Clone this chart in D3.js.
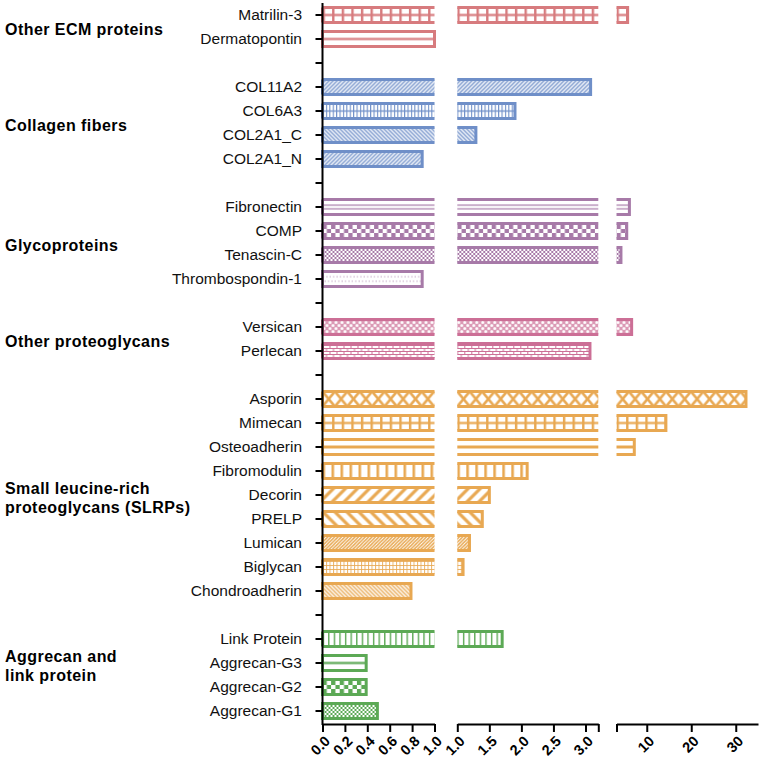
<!DOCTYPE html>
<html><head><meta charset="utf-8">
<script src="https://cdn.jsdelivr.net/npm/d3@7/dist/d3.min.js"></script>
<style>body{margin:0;background:#fff;} svg{display:block;font-family:Arial,"Liberation Sans",sans-serif;}</style>
</head><body><svg id="chart" width="765" height="766"></svg>
<script>
// ---------- data ----------
const categories = ["Matrilin-3","Dermatopontin","_gap1","COL11A2","COL6A3","COL2A1_C","COL2A1_N","_gap2",
  "Fibronectin","COMP","Tenascin-C","Thrombospondin-1","_gap3","Versican","Perlecan","_gap4",
  "Asporin","Mimecan","Osteoadherin","Fibromodulin","Decorin","PRELP","Lumican","Biglycan","Chondroadherin","_gap5",
  "Link Protein","Aggrecan-G3","Aggrecan-G2","Aggrecan-G1"];
const values = [5.7,1.0,null,3.08,1.9,1.29,0.89,null,
  6.1,5.5,4.2,0.89,null,6.6,3.07,null,
  32.3,14.3,7.2,2.09,1.5,1.39,1.19,1.09,0.79,null,
  1.7,0.39,0.39,0.49];
const patternTypes = ["grid","hline","","diagFineR","gridSmall","diagFineL","diagFineR","",
  "hlines2","checkBig","checkSmall","dots","","lace","brick","",
  "xdiamond","grid","hlineThick","vbars","diagThickR","diagThickL","diagDense","gridFine","diagFineL","",
  "vlines","hline","checkBig","checkSmall"];
const groupNames = ["Other ECM proteins","Collagen fibers","Glycoproteins","Other proteoglycans",
  "Small leucine-rich proteoglycans (SLRPs)","Aggrecan and link protein"];
const groupLabelLines = [["Other ECM proteins"],["Collagen fibers"],["Glycoproteins"],["Other proteoglycans"],
  ["Small leucine-rich","proteoglycans (SLRPs)"],["Aggrecan and","link protein"]];
const groupColors = ["#d77b7e","#6f8fc8","#a77aa8","#cc6f96","#e8a852","#5ca955"];
const groupMembers = [
  ["Matrilin-3","Dermatopontin"],
  ["COL11A2","COL6A3","COL2A1_C","COL2A1_N"],
  ["Fibronectin","COMP","Tenascin-C","Thrombospondin-1"],
  ["Versican","Perlecan"],
  ["Asporin","Mimecan","Osteoadherin","Fibromodulin","Decorin","PRELP","Lumican","Biglycan","Chondroadherin"],
  ["Link Protein","Aggrecan-G3","Aggrecan-G2","Aggrecan-G1"]];
const xSegments = [[0,1],[1,3.2],[3.2,35]];
const xTickValues = [[0,0.2,0.4,0.6,0.8,1.0],[1.0,1.5,2.0,2.5,3.0,3.2],[3.2,10,20,30]];
const xTickLabels = [["0.0","0.2","0.4","0.6","0.8","1.0"],["1.0","1.5","2.0","2.5","3.0",""],["","10","20","30"]];

// ---------- layout ----------
const segRanges = [[322.5,434.5],[457.3,598.3],[616.5,758]];
const axisY = 724;
const barH = 15;
const svg = d3.select("#chart");
const defs = svg.append("defs");

const y = d3.scaleBand().domain(categories).range([3,723]).padding(0);
const xs = xSegments.map((d,i)=>d3.scaleLinear().domain(d).range(segRanges[i]));

const colorOf = {};
groupMembers.forEach((m,gi)=>m.forEach(n=>colorOf[n]=groupColors[gi]));

// ---------- patterns ----------
function addPattern(id,type,c){
  const p = defs.append("pattern").attr("id",id).attr("patternUnits","userSpaceOnUse");
  const R=(x,yy,w,h,op)=>p.append("rect").attr("x",x).attr("y",yy).attr("width",w).attr("height",h).attr("fill",c).attr("fill-opacity",op==null?1:op);
  const bg=(w,h)=>p.append("rect").attr("width",w).attr("height",h).attr("fill","#fff");
  const P=(d,sw)=>p.append("path").attr("d",d).attr("stroke",c).attr("stroke-width",sw).attr("fill","none");
  let w=10,h=15,oy=0;
  switch(type){
    case "grid": w=9.6; bg(w,h); R(0,0,2.4,h); R(0,6.4,w,2.2); break;
    case "gridSmall": w=3.4; bg(w,h); R(0,0,1.1,h); R(0,6.9,w,1.3); break;
    case "gridFine": w=3.5; h=4; oy=1.5; bg(w,h); R(0,0,1,h,0.85); R(0,0,w,1,0.85); break;
    case "hline": bg(w,h); R(0,6.4,w,2.2); break;
    case "hlineThick": bg(w,h); R(0,6,w,3); break;
    case "hlines2": bg(w,h); R(0,5,w,1.2); R(0,8.8,w,1.2); break;
    case "diagFineR": w=4; h=4; bg(w,h); P("M-1,1L1,-1M0,4L4,0M3,5L5,3",1.3); break;
    case "diagFineL": w=4; h=4; bg(w,h); P("M-1,3L1,5M0,0L4,4M3,-1L5,1",1.3); break;
    case "diagDense": w=3.4; h=3.4; bg(w,h); P("M-1,1L1,-1M0,3.4L3.4,0M2.4,4.4L4.4,2.4",1.5); break;
    case "diagThickR": w=12; h=12; bg(w,h); P("M-3,3L3,-3M0,12L12,0M9,15L15,9",3.2); break;
    case "diagThickL": w=12; h=12; bg(w,h); P("M-3,9L3,15M0,0L12,12M9,-3L15,3",3.2); break;
    case "checkBig": w=8.6; h=8; oy=1.5; bg(w,h); R(0,0,4.3,4); R(4.3,4,4.3,4); break;
    case "checkSmall": w=4; h=4; oy=1.5; bg(w,h); R(0,0,2,2); R(2,2,2,2); break;
    case "dots": w=3.4; bg(w,h);
      p.append("circle").attr("cx",1).attr("cy",5.3).attr("r",0.75).attr("fill",c).attr("fill-opacity",0.6);
      p.append("circle").attr("cx",2.7).attr("cy",9.7).attr("r",0.75).attr("fill",c).attr("fill-opacity",0.6); break;
    case "lace": w=6; h=6; oy=1.5; bg(w,h); R(0,0,w,h,0.7);
      [[1.5,1.5],[4.5,4.5],[-1.5,4.5],[7.5,1.5],[4.5,-1.5],[1.5,7.5]].forEach(q=>p.append("circle").attr("cx",q[0]).attr("cy",q[1]).attr("r",1.5).attr("fill","#fff")); break;
    case "brick": w=7; h=6; oy=1.5; bg(w,h); R(0,0,w,1); R(0,3,w,1); R(0,0,1,3); R(3.5,3,1,3); break;
    case "xdiamond": w=12.4; bg(w,h); P("M0,0L12.4,15M0,15L12.4,0",2.6); break;
    case "vbars": w=9; bg(w,h); R(0,0,2.6,h); break;
    case "vlines": w=5.6; bg(w,h); R(0,0,1.4,h); break;
    default: bg(w,h);
  }
  p.attr("width",w).attr("height",h).attr("y",oy);
}
categories.forEach((c,i)=>{ if(patternTypes[i]) addPattern("pat"+i,patternTypes[i],colorOf[c]); });

// ---------- bars ----------
const barData = categories.map((c,i)=>({c,i,v:values[i]})).filter(d=>d.v!=null);
const gBars = svg.append("g");
xSegments.forEach((seg,si)=>{
  const sx = xs[si];
  barData.filter(d=>d.v>seg[0]).forEach(d=>{
    const end = Math.min(d.v,seg[1]);
    const x0 = sx(seg[0]), w = sx(end)-x0;
    const closed = d.v<=seg[1];
    const g = gBars.append("g").attr("transform",`translate(${x0},${y(d.c)+(y.bandwidth()-barH)/2})`);
    g.append("rect").attr("width",w).attr("height",barH).attr("fill",`url(#pat${d.i})`);
    let path;
    if(closed) path = si===0 ? `M0,0H${w}V${barH}H0Z` : `M0,0H${w}V${barH}H0`;
    else path = `M0,0H${w}M0,${barH}H${w}` + (si===0?`M0,0V${barH}`:"");
    g.append("path").attr("d",path).attr("fill","none").attr("stroke",colorOf[d.c]).attr("stroke-width",3);
  });
});

// ---------- y axis ----------
const yAxis = svg.append("g").attr("transform",`translate(${segRanges[0][0]},0)`)
  .call(d3.axisLeft(y).tickSize(7).tickSizeOuter(0).tickFormat(d=>d.startsWith("_")?"":d));
yAxis.select(".domain").remove();
yAxis.selectAll(".tick line").attr("stroke","#000").attr("stroke-width",2);
yAxis.selectAll(".tick text").attr("font-size","15.5px").attr("font-family","Arial, 'Liberation Sans', sans-serif")
  .attr("fill","#111").attr("x",-20.5).attr("dy","0.35em");
svg.append("line").attr("x1",segRanges[0][0]).attr("x2",segRanges[0][0]).attr("y1",3).attr("y2",axisY+1)
  .attr("stroke","#000").attr("stroke-width",2);

// ---------- x axes ----------
xs.forEach((sx,si)=>{
  const g = svg.append("g").attr("transform",`translate(0,${axisY})`)
    .call(d3.axisBottom(sx).tickValues(xTickValues[si]).tickFormat((d,j)=>xTickLabels[si][j]).tickSize(8).tickSizeOuter(0));
  g.select(".domain").attr("stroke","#000").attr("stroke-width",2);
  g.selectAll(".tick line").attr("stroke","#000").attr("stroke-width",2);
  g.selectAll(".tick text").attr("font-size","14.5px").attr("font-weight","bold").attr("fill","#000")
    .attr("font-family","Arial, 'Liberation Sans', sans-serif")
    .attr("text-anchor","end").attr("x",0).attr("y",0).attr("dy",0)
    .attr("transform","translate(8,18) rotate(-45)");
});

// ---------- group labels ----------
const labelAnchor = [null,null,null,null,"Decorin","Aggrecan-G3"];
const gLab = svg.append("g").attr("font-weight","bold").attr("font-size","16px").attr("fill","#000");
groupLabelLines.forEach((lines,gi)=>{
  const m = groupMembers[gi];
  const mid = (y(m[0])+y(m[m.length-1]))/2 + y.bandwidth()/2;
  const base = labelAnchor[gi] ? y(labelAnchor[gi])+y.bandwidth()/2 - 1 : mid + 7.5;
  lines.forEach((t,li)=>{
    gLab.append("text").attr("x",5).attr("y",base+li*18.5).attr("letter-spacing","0.45px").text(t);
  });
});
</script></body></html>
